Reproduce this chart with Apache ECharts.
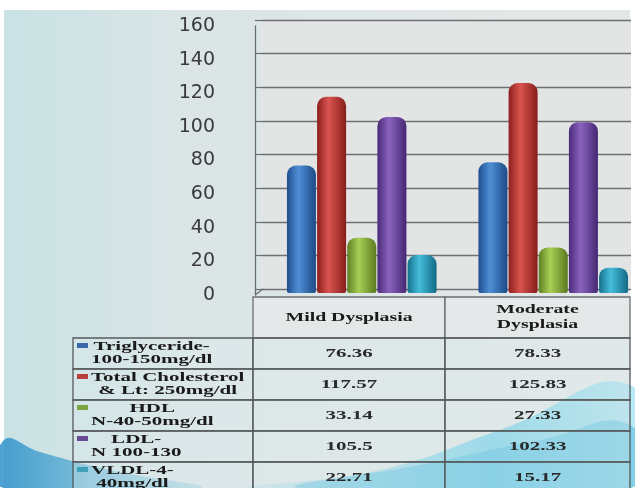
<!DOCTYPE html>
<html>
<head>
<meta charset="utf-8">
<script src="https://cdn.jsdelivr.net/npm/echarts@6/dist/echarts.min.js"></script>
<style>
html,body{margin:0;padding:0;background:#ffffff;}
#chart{width:635px;height:488px;}
</style>
</head>
<body>
<div id="chart"></div>
<script>
// ---- data ----
const categories = ['Mild Dysplasia', 'Moderate Dysplasia'];
const headerLabels = ['Mild Dysplasia', 'Moderate\nDysplasia'];
const seriesNames = ['Triglyceride-\n100-150mg/dl', 'Total Cholesterol\n& Lt: 250mg/dl', 'HDL\nN-40-50mg/dl', 'LDL-\nN 100-130', 'VLDL-4-\n40mg/dl'];
const triglyceride = [76.36, 78.33];
const totalCholesterol = [117.57, 125.83];
const hdl = [33.14, 27.33];
const ldl = [105.5, 102.33];
const vldl = [22.71, 15.17];
const valueLabels = [['76.36', '78.33'], ['117.57', '125.83'], ['33.14', '27.33'], ['105.5', '102.33'], ['22.71', '15.17']];
const yMin = 0, yMax = 160, yStep = 20;

const seriesValues = [triglyceride, totalCholesterol, hdl, ldl, vldl];
const colors = [
  ['#1f4f8f', '#4f8fd6', '#1d4a86'],
  ['#8c1f1c', '#d9544f', '#861d1a'],
  ['#5f7f22', '#a8cf55', '#5a7a20'],
  ['#4a2a78', '#8a63c0', '#452772'],
  ['#15708a', '#45bedc', '#136a84']
];
const keyColors = ['#3a68a8', '#b8403c', '#7ea442', '#664a92', '#3fa0b8'];

const chart = echarts.init(document.getElementById('chart'), null, {renderer: 'canvas'});

const W = 635, H = 488;
const tblLeft = 73, col1 = 253, col2 = 445, col3 = 630;
const headTop = 297, headBot = 338, rowH = 31;
const serif = '"Liberation Serif", "DejaVu Serif", serif';
const tFont = 'bold 12px ' + serif;
const SX = 1.75;

const mctx = document.createElement('canvas').getContext('2d');
mctx.font = tFont;
function blockWidth(s) {
  return Math.max.apply(null, s.split('\n').map(l => mctx.measureText(l).width)) * SX;
}

const graphics = [];
// background
graphics.push({type: 'rect', z: -10, silent: true, shape: {x: 4, y: 10, width: W - 9, height: H - 10},
  style: {fill: new echarts.graphic.LinearGradient(0, 0, 1, 0, [
    {offset: 0, color: '#c9e2e4'}, {offset: 0.3, color: '#dbe5e6'}, {offset: 1, color: '#e4e7e7'}])}});
// waves
graphics.push({type: 'polygon', z: -9, silent: true, shape: {smooth: 0.5, points: [[4, 440], [40, 452], [110, 470], [200, 488], [4, 488]]},
  style: {fill: new echarts.graphic.LinearGradient(0, 0, 1, 0, [{offset: 0, color: 'rgba(40,140,200,0.85)'}, {offset: 1, color: 'rgba(90,190,220,0.3)'}])}});
graphics.push({type: 'polygon', z: -9, silent: true, shape: {smooth: 0.5, points: [[250, 488], [380, 470], [500, 430], [630, 385], [630, 488]]},
  style: {fill: new echarts.graphic.LinearGradient(0, 0, 1, 0, [{offset: 0, color: 'rgba(120,210,230,0.2)'}, {offset: 0.6, color: 'rgba(80,200,230,0.7)'}, {offset: 1, color: 'rgba(150,225,240,0.6)'}])}});
graphics.push({type: 'polygon', z: -9, silent: true, shape: {smooth: 0.5, points: [[300, 488], [420, 465], [540, 440], [630, 425], [630, 488]]},
  style: {fill: 'rgba(60,180,220,0.45)'}});
// floor slant edge
graphics.push({type: 'line', z: 4, silent: true, shape: {x1: 255, y1: 295, x2: 263, y2: 289}, style: {stroke: '#6a6e70', lineWidth: 1.3}});

// table header
const headerCells = [[col1, col2], [col2, col3]];
headerCells.forEach((c, j) => {
  graphics.push({type: 'rect', z: 5, silent: true, shape: {x: c[0], y: headTop, width: c[1] - c[0], height: headBot - headTop},
    style: {fill: 'rgba(228,232,232,0.9)', stroke: '#6a6e70', lineWidth: 1.3}});
  graphics.push({type: 'text', z: 6, silent: true, x: (c[0] + c[1]) / 2, y: (headTop + headBot) / 2, scaleX: 1.65,
    style: {text: headerLabels[j], font: tFont, fill: '#1a1a1a', align: 'center', verticalAlign: 'middle', lineHeight: 15}});
});
// rows
seriesNames.forEach((name, i) => {
  const y0 = headBot + i * rowH;
  [[tblLeft, col1], [col1, col2], [col2, col3]].forEach(c => {
    graphics.push({type: 'rect', z: 5, silent: true, shape: {x: c[0], y: y0, width: c[1] - c[0], height: rowH},
      style: {fill: 'rgba(220,236,238,0.35)', stroke: '#55595b', lineWidth: 1.3}});
  });
  graphics.push({type: 'rect', z: 6, silent: true, shape: {x: 77, y: y0 + 5, width: 11, height: 5}, style: {fill: keyColors[i]}});
  const bw = blockWidth(name);
  graphics.push({type: 'text', z: 6, silent: true, x: 91 + bw / 2, y: y0 + rowH / 2, scaleX: SX,
    style: {text: name, font: tFont, fill: '#1a1a1a', align: 'center', verticalAlign: 'middle', lineHeight: 13}});
  valueLabels[i].forEach((v, j) => {
    graphics.push({type: 'text', z: 6, silent: true, x: (headerCells[j][0] + headerCells[j][1]) / 2, y: y0 + rowH / 2, scaleX: SX,
      style: {text: v, font: tFont, fill: '#2a2a2a', align: 'center', verticalAlign: 'middle'}});
  });
});

const option = {
  animation: false,
  backgroundColor: 'transparent',
  grid: [
    {left: 255, right: 0, top: 26, bottom: 193, show: false, outerBoundsMode: 'none'},
    {left: 262, right: 4, top: 20, bottom: 199, show: true, backgroundColor: '#e3e5e5', borderWidth: 0, outerBoundsMode: 'none'},
    {left: 266, width: 383, top: 26, bottom: 195, show: false, outerBoundsMode: 'none'}
  ],
  xAxis: [
    {gridIndex: 0, type: 'category', data: categories, show: false},
    {gridIndex: 1, type: 'category', data: categories, show: false},
    {gridIndex: 2, type: 'category', data: categories, show: false}
  ],
  yAxis: [
    {gridIndex: 0, type: 'value', min: yMin, max: yMax, interval: yStep,
      axisLine: {show: true, lineStyle: {color: '#6a6e70', width: 1.3}}, axisTick: {show: false}, splitLine: {show: false},
      axisLabel: {margin: 40, fontSize: 19, fontFamily: '"DejaVu Sans", Verdana, sans-serif', color: '#3a3a3a'}},
    {gridIndex: 1, type: 'value', min: yMin, max: yMax, interval: yStep,
      axisLine: {show: false}, axisLabel: {show: false},
      axisTick: {show: true, inside: false, length: 7, lineStyle: {color: '#6a6e70', width: 1.2}},
      splitLine: {show: true, lineStyle: {color: '#6d7173', width: 1.3}}},
    {gridIndex: 2, type: 'value', min: yMin, max: yMax, interval: yStep, show: false}
  ],
  series: seriesValues.map((vals, i) => ({
    type: 'bar',
    name: seriesNames[i],
    xAxisIndex: 2, yAxisIndex: 2,
    data: vals,
    barWidth: 29,
    barGap: '4%',
    itemStyle: {
      borderRadius: [9, 9, 2, 2],
      color: new echarts.graphic.LinearGradient(0, 0, 1, 0, [
        {offset: 0, color: colors[i][0]}, {offset: 0.4, color: colors[i][1]}, {offset: 1, color: colors[i][2]}])
    }
  })),
  graphic: graphics
};
chart.setOption(option);
</script>
</body>
</html>
